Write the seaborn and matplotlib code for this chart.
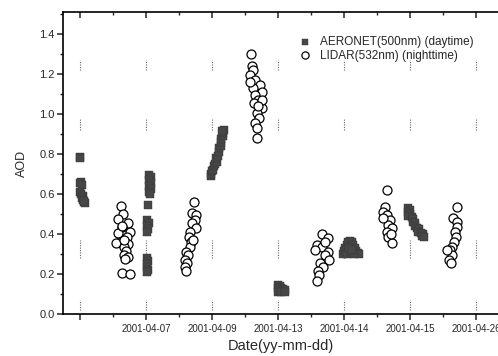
import numpy as np
import pandas as pd
import matplotlib
matplotlib.use("Agg")
import matplotlib.pyplot as plt
import seaborn as sns
from matplotlib.ticker import MultipleLocator, FixedLocator

# ---------------- data (x in days from first major tick) ----------------
aeronet_x = [0.00, 0.00, 0.02, 0.00, 0.03, 0.00, 0.02, 0.04, 0.03, 0.05, 0.06, 0.07, 0.06,
             1.05, 1.08, 1.04, 1.07, 1.05, 1.08, 1.04, 1.06, 1.03,
             1.02, 1.04, 1.02, 1.03, 1.02,
             1.01, 1.03, 1.01, 1.02, 1.03, 1.01,
             1.98, 1.99, 2.00, 2.02, 2.03, 2.05, 2.07, 2.06, 2.09, 2.10, 2.11, 2.13, 2.14, 2.13, 2.16, 2.17, 2.18, 2.15,
             3.00, 3.03, 3.00, 3.05, 3.08, 3.02, 3.10, 3.00, 3.05, 3.10,
             3.99, 4.00, 4.02, 4.04, 4.06, 4.09, 4.12, 4.14, 4.16, 4.18, 4.21, 4.22, 4.05, 4.10, 4.15, 4.08, 4.12,
             4.97, 5.00, 4.96, 5.00, 4.97, 5.02, 5.05, 5.04, 5.08, 5.07, 5.10, 5.13, 5.12, 5.16, 5.20, 5.18, 5.21]
aeronet_aod = [0.785, 0.780, 0.660, 0.655, 0.645, 0.610, 0.600, 0.590, 0.580, 0.570, 0.560, 0.555, 0.565,
               0.695, 0.685, 0.670, 0.655, 0.640, 0.625, 0.610, 0.600, 0.545,
               0.470, 0.455, 0.440, 0.425, 0.410,
               0.280, 0.265, 0.250, 0.235, 0.220, 0.210,
               0.690, 0.700, 0.715, 0.720, 0.740, 0.750, 0.760, 0.780, 0.790, 0.810, 0.830, 0.840, 0.860, 0.875, 0.890, 0.905, 0.920, 0.915,
               0.145, 0.140, 0.130, 0.130, 0.125, 0.120, 0.120, 0.110, 0.110, 0.110,
               0.300, 0.315, 0.330, 0.345, 0.360, 0.365, 0.360, 0.345, 0.330, 0.315, 0.305, 0.300, 0.300, 0.310, 0.300, 0.330, 0.320,
               0.530, 0.520, 0.510, 0.500, 0.490, 0.485, 0.475, 0.460, 0.455, 0.440, 0.430, 0.425, 0.410, 0.405, 0.400, 0.390, 0.385]

lidar_x = [0.62, 0.65, 0.58, 0.73, 0.63, 0.76, 0.58, 0.71, 0.60, 0.55, 0.73, 0.67, 0.70, 0.66, 0.72, 0.68, 0.63, 0.76, 0.64, 0.67,
           1.73, 1.69, 1.75, 1.74, 1.69, 1.75, 1.67, 1.65, 1.68, 1.66, 1.61, 1.64, 1.59, 1.62, 1.59, 1.61, 1.71,
           2.59, 2.61, 2.62, 2.58, 2.65, 2.73, 2.62, 2.75, 2.65, 2.70, 2.63, 2.75, 2.68, 2.71, 2.65, 2.68, 2.68, 2.58, 2.75, 2.70,
           3.67, 3.76, 3.59, 3.67, 3.76, 3.71, 3.77, 3.64, 3.68, 3.61, 3.62, 3.59, 3.56, 3.71,
           4.65, 4.62, 4.59, 4.65, 4.70, 4.67, 4.73, 4.65, 4.67, 4.73, 4.59, 4.71,
           5.71, 5.65, 5.71, 5.71, 5.68, 5.70, 5.67, 5.64, 5.61, 5.64, 5.59, 5.62, 5.56]
lidar_aod = [0.540, 0.500, 0.475, 0.455, 0.435, 0.410, 0.405, 0.385, 0.360, 0.355, 0.350, 0.335, 0.315, 0.295, 0.285, 0.275, 0.205, 0.200, 0.440, 0.370,
             0.560, 0.505, 0.495, 0.470, 0.455, 0.430, 0.410, 0.385, 0.360, 0.335, 0.310, 0.295, 0.270, 0.255, 0.235, 0.215, 0.370,
             1.300, 1.240, 1.220, 1.195, 1.170, 1.145, 1.130, 1.110, 1.095, 1.070, 1.055, 1.030, 1.005, 0.980, 0.955, 0.930, 0.880, 1.160, 1.070, 1.040,
             0.400, 0.380, 0.345, 0.335, 0.310, 0.295, 0.270, 0.255, 0.235, 0.215, 0.195, 0.165, 0.320, 0.360,
             0.620, 0.535, 0.510, 0.495, 0.470, 0.445, 0.430, 0.410, 0.385, 0.355, 0.480, 0.400,
             0.535, 0.480, 0.460, 0.435, 0.410, 0.385, 0.360, 0.335, 0.320, 0.295, 0.270, 0.255, 0.320]

date_ticks = [0, 1, 2, 3, 4, 5, 6]
date_labels = ["", "2001-04-07", "2001-04-09", "2001-04-13", "2001-04-14", "2001-04-15", "2001-04-26"]
aod_ticks = [0.0, 0.2, 0.4, 0.6, 0.8, 1.0, 1.2, 1.4]
aod_labels = ["0.0", "0.2", "0.4", "0.6", "0.8", "1.0", "1.2", "1.4"]
series_names = ["AERONET(500nm) (daytime)", "LIDAR(532nm) (nighttime)"]

# ---------------- build frames ----------------
df_a = pd.DataFrame({"date": aeronet_x, "AOD": aeronet_aod, "series": series_names[0]})
df_l = pd.DataFrame({"date": lidar_x, "AOD": lidar_aod, "series": series_names[1]})

sns.set_theme(style="ticks")
plt.rcParams["font.family"] = ["Liberation Sans", "DejaVu Sans"]

fig = plt.figure(figsize=(4.98, 3.56), dpi=100)
W, H = 498, 356
ax = fig.add_axes([63 / W, 42 / H, (498 - 63) / W, (314 - 12) / H])

# faint dotted scan-grid fragments at major ticks
grid_segments = [(1.22, 1.27), (0.92, 0.98), (0.28, 0.37), (0.02, 0.07)]
for xt in date_ticks:
    for y0, y1 in grid_segments:
        ax.vlines(xt, y0, y1, colors="#666666", linestyles=(0, (1, 1.2)), linewidth=0.8, zorder=1)

sns.scatterplot(data=df_a, x="date", y="AOD", ax=ax, marker="s", s=36, color="#474747",
                edgecolor="#333333", linewidth=0.3, label=series_names[0], zorder=3)
sns.scatterplot(data=df_l, x="date", y="AOD", ax=ax, marker="o", s=42, facecolor="white",
                edgecolor="black", linewidth=0.9, label=series_names[1], zorder=4)

ax.set_xlim(-0.258, 6.33)
ax.set_ylim(0, 1.51)

ax.xaxis.set_major_locator(FixedLocator(date_ticks))
ax.set_xticklabels(date_labels, fontsize=7)
ax.xaxis.set_minor_locator(MultipleLocator(0.5))
ax.set_yticks(aod_ticks)
ax.set_yticklabels(aod_labels, fontsize=8)
ax.yaxis.set_minor_locator(MultipleLocator(0.1))

ax.tick_params(axis="x", which="major", direction="out", length=4, width=1.1, top=True, pad=3)
ax.tick_params(axis="x", which="minor", direction="out", length=2, width=1.0, top=True)
ax.tick_params(axis="x", which="both", labeltop=False)
ax.tick_params(axis="y", which="major", direction="out", length=4, width=1.1, pad=2)
ax.tick_params(axis="y", which="minor", direction="out", length=2.5, width=1.0)

# top ticks point inward
for t in ax.xaxis.get_major_ticks() + ax.xaxis.get_minor_ticks():
    t.tick2line.set_marker(3)  # TICKDOWN

for side in ["left", "bottom", "top"]:
    ax.spines[side].set_linewidth(1.2)
    ax.spines[side].set_color("black")
ax.spines["right"].set_visible(False)

ax.set_xlabel("Date(yy-mm-dd)", fontsize=10.5, labelpad=4)
ax.set_ylabel("AOD", fontsize=9, labelpad=8)

leg = ax.legend(loc="upper left", bbox_to_anchor=(0.53, 0.935), frameon=False, fontsize=8.5,
                handletextpad=0.6, labelspacing=0.1, borderaxespad=0, handlelength=1.2,
                markerscale=0.8)

fig.savefig("out.png", dpi=100)
